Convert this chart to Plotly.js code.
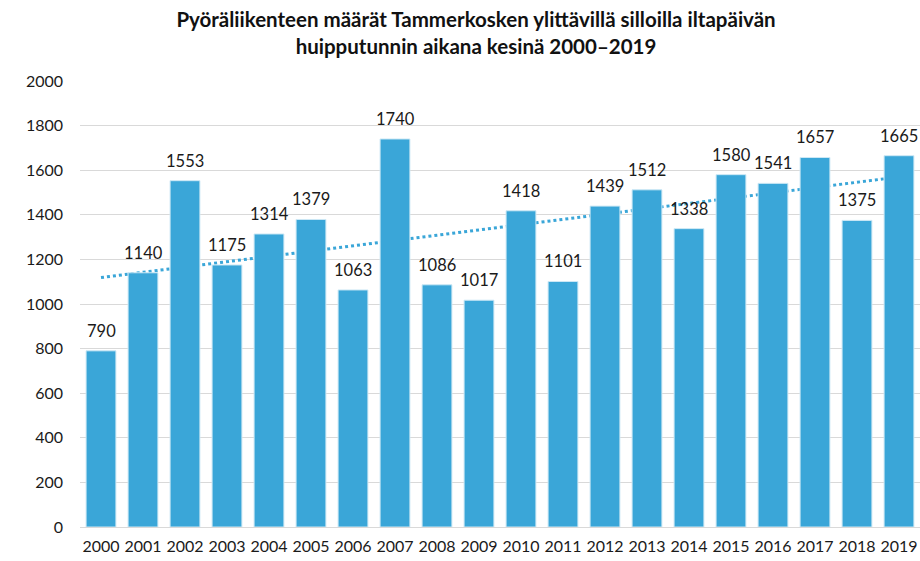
<!DOCTYPE html>
<html><head><meta charset="utf-8">
<script src="https://cdn.plot.ly/plotly-3.0.1.min.js"></script>
<style>html,body{margin:0;padding:0;background:#fff}#chart{width:920px;height:561px}</style>
</head><body><div id="chart"></div>
<script>
const years = ['2000','2001','2002','2003','2004','2005','2006','2007','2008','2009','2010','2011','2012','2013','2014','2015','2016','2017','2018','2019'];
const cyclists = [790,1140,1553,1175,1314,1379,1063,1740,1086,1017,1418,1101,1439,1512,1338,1580,1541,1657,1375,1665];
const yTicks = [0,200,400,600,800,1000,1200,1400,1600,1800,2000];

// Linear trendline (least squares) computed from the data
const n = cyclists.length;
const xs = cyclists.map((_, i) => i);
const mx = xs.reduce((a,b)=>a+b,0)/n, my = cyclists.reduce((a,b)=>a+b,0)/n;
let sxy=0, sxx=0;
xs.forEach((x,i)=>{sxy+=(x-mx)*(cyclists[i]-my); sxx+=(x-mx)*(x-mx);});
const slope = sxy/sxx, intercept = my - slope*mx;
const trend = xs.map(x => intercept + slope*x);

const FONT = 'Lato, "Open Sans", sans-serif';
const BLUE = '#3AA6D8';

const data = [
  {type:'scatter', mode:'lines', x: years, y: trend, xaxis:'x', yaxis:'y',
   line:{color:BLUE, width:3, dash:'dot'}, hoverinfo:'skip', showlegend:false},
  {type:'bar', x: years, y: cyclists, xaxis:'x', yaxis:'y2',
   marker:{color:BLUE, line:{color:'#CDE8F5', width:1}}, showlegend:false}
];

// data labels: category index i on the x axis, value on the bar axis
const labels = cyclists.map((v, i) => ({
  x: i, y: v, xref:'x', yref:'y2', text: String(v),
  showarrow:false, yanchor:'bottom', xanchor:'center', yshift:8,
  font:{family:FONT, size:16.5, color:'#1a1a1a'}
}));

const yax = {range:[0,2000], tickvals:yTicks, ticktext:yTicks.map(String), showgrid:true, gridcolor:'#D9D9D9', gridwidth:1,
  zeroline:false, showline:false, ticks:'', ticklabelstandoff:16, tickfont:{family:FONT, size:16, color:'#1a1a1a'}, fixedrange:true};

const layout = {
  width:920, height:561,
  margin:{l:80, r:0, t:81, b:34},
  paper_bgcolor:'#fff', plot_bgcolor:'#fff',
  bargap:0.29,
  title:{text:'<b>Pyöräliikenteen määrät Tammerkosken ylittävillä silloilla iltapäivän<br>huipputunnin aikana kesinä 2000–2019</b>',
    font:{family:FONT, size:20.5, color:'#111'}, x:476/920, xanchor:'center', yref:'container', y:1-27/561, yanchor:'middle'},
  xaxis:{type:'category', range:[-0.5, years.length-0.5], showgrid:false, zeroline:false, showline:true, linecolor:'#D9D9D9', linewidth:1, ticks:'',
    ticklabelstandoff:5, tickfont:{family:FONT, size:16, color:'#1a1a1a'}},
  yaxis: yax,
  yaxis2: Object.assign({}, yax, {overlaying:'y', showgrid:false, showticklabels:false}),
  annotations: labels,
  showlegend:false
};

Plotly.newPlot('chart', data, layout, {displayModeBar:false, staticPlot:true});
</script>
</body></html>
